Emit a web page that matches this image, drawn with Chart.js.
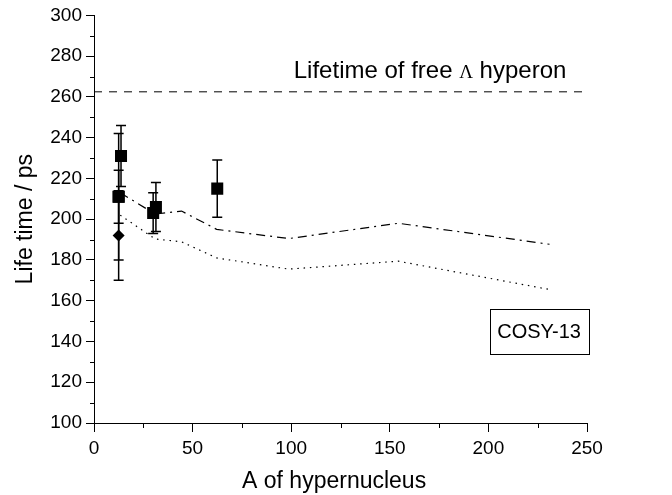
<!DOCTYPE html>
<html lang="en">
<head>
  <meta charset="UTF-8">
  <title>Hypernucleus lifetime</title>
  <script src="https://cdn.jsdelivr.net/npm/chart.js"></script>
  <style>
    body { margin: 0; background: #fff; }
    #wrap { width: 672px; height: 495px; }
  </style>
</head>
<body>
  <div id="wrap"><canvas id="lifeChart" width="672" height="495"></canvas></div>

  <script>
    // measured points (squares) and the one diamond
    const sqA   = [13.7, 12.5, 12.5, 30.0, 31.4, 62.5];
    const sqT   = [231, 211, 211, 203, 206, 215];
    const sqErr = [15, 31, 13, 10, 12, 14];

    const dmA   = [12.5];
    const dmT   = [192];
    const dmErr = [22];

    // theory curves
    const thA      = [13.3, 31, 44.4, 62.2, 98.8, 154.3, 231];
    const dashDotT = [213, 202.5, 204, 195, 190.5, 198, 187.7];
    const dottedT  = [202, 190.3, 188.9, 181, 175.5, 179.4, 165.5];

    // free lambda lifetime
    const freeA = [0, 249];
    const freeT = [262.5, 262.5];

    const xTicks = [0, 50, 100, 150, 200, 250];
    const yTicks = [100, 120, 140, 160, 180, 200, 220, 240, 260, 280, 300];

    const pts = (xs, ys) => xs.map((x, i) => ({ x: x, y: ys[i] }));
    const FONT = "'Liberation Sans', Arial, sans-serif";

    // error bars + minor ticks + labels
    const extras = {
      id: "extras",
      beforeDatasetsDraw(chart) {
        const { ctx, scales: { x, y } } = chart;
        ctx.save();
        ctx.strokeStyle = "#000";
        ctx.lineWidth = 1.5;
        const bars = (xs, ys, es) => {
          xs.forEach((a, i) => {
            const px = x.getPixelForValue(a);
            const top = y.getPixelForValue(ys[i] + es[i]);
            const bot = y.getPixelForValue(ys[i] - es[i]);
            ctx.beginPath();
            ctx.moveTo(px, top); ctx.lineTo(px, bot);
            ctx.moveTo(px - 5, top); ctx.lineTo(px + 5, top);
            ctx.moveTo(px - 5, bot); ctx.lineTo(px + 5, bot);
            ctx.stroke();
          });
        };
        bars(dmA, dmT, dmErr);
        bars(sqA, sqT, sqErr);
        ctx.restore();
      },
      afterDraw(chart) {
        const { ctx, scales: { x, y } } = chart;
        ctx.save();
        ctx.strokeStyle = "#000";
        ctx.lineWidth = 1;
        ctx.beginPath();
        for (let v = 110; v < 300; v += 20) {
          const py = Math.round(y.getPixelForValue(v)) + 0.5;
          ctx.moveTo(x.left - 4, py); ctx.lineTo(x.left, py);
        }
        for (let v = 25; v < 250; v += 50) {
          const px = Math.round(x.getPixelForValue(v)) + 0.5;
          ctx.moveTo(px, y.bottom); ctx.lineTo(px, y.bottom + 5);
        }
        ctx.stroke();

        // free lambda label
        ctx.fillStyle = "#000";
        ctx.textBaseline = "alphabetic";
        let tx = x.getPixelForValue(101.3);
        const ty = y.getPixelForValue(273) + 8;
        const parts = [["Lifetime of free ", "24px " + FONT], ["\u039B", "19px 'Liberation Serif', serif"], [" hyperon", "24px " + FONT]];
        parts.forEach(p => {
          ctx.font = p[1];
          ctx.fillText(p[0], tx, ty);
          tx += ctx.measureText(p[0]).width;
        });

        // COSY-13 box
        const bx0 = x.getPixelForValue(200.6), bx1 = x.getPixelForValue(250.8);
        const by0 = y.getPixelForValue(155.9), by1 = y.getPixelForValue(134);
        ctx.strokeRect(Math.round(bx0) + 0.5, Math.round(by0) + 0.5, Math.round(bx1 - bx0), Math.round(by1 - by0));
        ctx.font = "20px " + FONT;
        ctx.textAlign = "center";
        ctx.textBaseline = "middle";
        ctx.fillText("COSY-13", (bx0 + bx1) / 2, (by0 + by1) / 2 + 1);
        ctx.restore();
      }
    };

    const ctx = document.getElementById("lifeChart").getContext("2d");
    new Chart(ctx, {
      type: "scatter",
      data: {
        datasets: [
          { label: "free", data: pts(freeA, freeT), showLine: true, borderColor: "#000", borderWidth: 1, borderDash: [8, 7], pointRadius: 0 },
          { label: "dashdot", data: pts(thA, dashDotT), showLine: true, borderColor: "#000", borderWidth: 1.2, borderDash: [9, 5, 2, 5], pointRadius: 0 },
          { label: "dotted", data: pts(thA, dottedT), showLine: true, borderColor: "#000", borderWidth: 1.2, borderDash: [1.5, 4.8], pointRadius: 0 },
          { label: "diamond", data: pts(dmA, dmT), pointStyle: "rectRot", pointRadius: 6, backgroundColor: "#000", borderColor: "#000", borderWidth: 0 },
          { label: "squares", data: pts(sqA, sqT), pointStyle: "rect", pointRadius: 8.5, backgroundColor: "#000", borderColor: "#000", borderWidth: 0 }
        ]
      },
      options: {
        responsive: false,
        animation: false,
        layout: { padding: { left: 12, top: 15, right: 85, bottom: 0 } },
        plugins: { legend: { display: false }, tooltip: { enabled: false } },
        scales: {
          x: {
            type: "linear", min: 0, max: 250,
            afterBuildTicks: s => { s.ticks = xTicks.map(v => ({ value: v })); },
            afterFit: s => { s.height = 72; },
            grid: { drawOnChartArea: false, tickLength: 9, tickColor: "#000" },
            border: { color: "#000", width: 1 },
            ticks: { color: "#000", font: { family: FONT, size: 19 }, padding: 5, maxRotation: 0 },
            title: { display: true, text: "A of hypernucleus\u00a0\u00a0", color: "#000", font: { family: FONT, size: 23 }, padding: { top: 0, bottom: 0 } }
          },
          y: {
            type: "linear", min: 100, max: 300,
            afterBuildTicks: s => { s.ticks = yTicks.map(v => ({ value: v })); },
            afterFit: s => { s.width = 82; },
            grid: { drawOnChartArea: false, tickLength: 8, tickColor: "#000" },
            border: { color: "#000", width: 1 },
            ticks: { color: "#000", font: { family: FONT, size: 19 }, padding: 4 },
            title: { display: true, text: "Life time / ps", color: "#000", font: { family: FONT, size: 23 }, padding: { top: 0, bottom: 0 } }
          }
        }
      },
      plugins: [extras]
    });
  </script>
</body>
</html>
